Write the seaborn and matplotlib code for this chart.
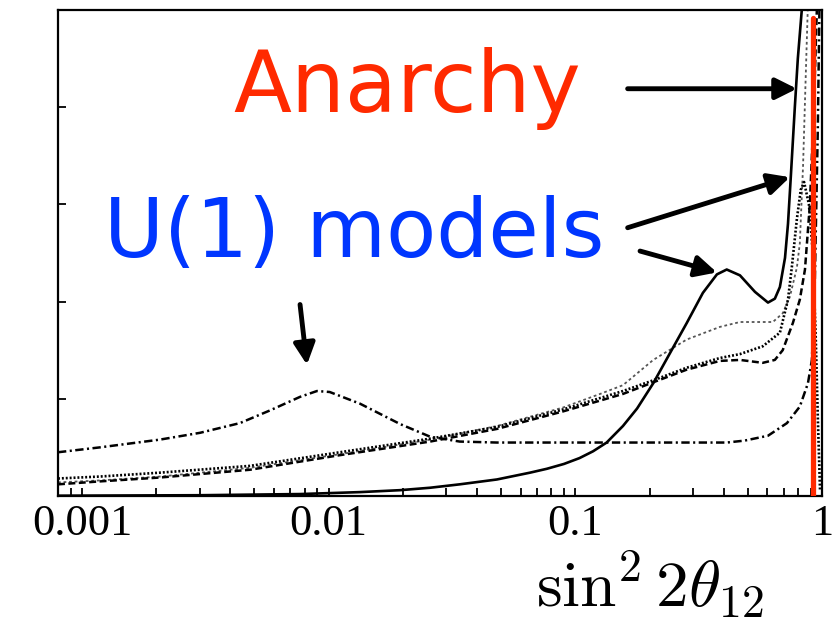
import numpy as np
import pandas as pd
import matplotlib
matplotlib.use("Agg")
import matplotlib.pyplot as plt
import seaborn as sns

# ---------------- data ----------------
# solid curve
x_solid = [0.00080, 0.00301, 0.00766, 0.0134, 0.0195, 0.0258, 0.034, 0.0481, 0.0655, 0.0767,
           0.090, 0.104, 0.118, 0.134, 0.156, 0.178, 0.207, 0.242, 0.283, 0.329,
           0.375, 0.411, 0.465, 0.535, 0.604, 0.644, 0.675, 0.708, 0.728, 0.748,
           0.776, 0.798, 0.828, 0.861]
y_solid = [0.003, 0.008, 0.02, 0.04, 0.06, 0.085, 0.12, 0.17, 0.24, 0.28,
           0.33, 0.39, 0.46, 0.55, 0.72, 0.90, 1.16, 1.47, 1.78, 2.09,
           2.28, 2.33, 2.27, 2.10, 1.99, 2.03, 2.15, 2.45, 2.8, 3.3,
           4.0, 4.5, 5.0, 5.8]

# long dash-dot curve (bump at 0.01)
x_dashdot = [0.00080, 0.00118, 0.00207, 0.00301, 0.00437, 0.00578, 0.00766, 0.00897, 0.0101, 0.0134,
             0.0195, 0.0258, 0.034, 0.0481, 0.104, 0.283, 0.411, 0.486, 0.604, 0.721,
             0.813, 0.877, 0.910, 0.935, 0.962, 0.982]
y_dashdot = [0.45, 0.50, 0.58, 0.65, 0.75, 0.88, 1.02, 1.08, 1.07, 0.95,
             0.74, 0.61, 0.56, 0.55, 0.55, 0.55, 0.55, 0.57, 0.62, 0.75,
             0.92, 1.16, 1.40, 2.2, 3.8, 5.5]

# fine dotted curve
x_fine = [0.00080, 0.00118, 0.00207, 0.0048, 0.0111, 0.0258, 0.0481, 0.0891, 0.126, 0.156,
          0.207, 0.283, 0.386, 0.465, 0.632, 0.693, 0.741, 0.791, 0.813, 0.838, 0.861, 0.885]
y_fine = [0.14, 0.16, 0.20, 0.29, 0.43, 0.58, 0.72, 0.91, 1.05, 1.14,
          1.40, 1.61, 1.74, 1.79, 1.79, 1.88, 2.05, 2.35, 2.6, 3.4, 4.4, 5.4]

# dense dotted curve
x_dots = [0.00080, 0.00118, 0.00207, 0.0048, 0.0111, 0.0258, 0.0481, 0.0891, 0.156, 0.207,
          0.283, 0.386, 0.465, 0.575, 0.675, 0.728, 0.755, 0.791, 0.820, 0.846, 0.885,
          0.918, 0.944, 0.962, 0.982]
y_dots = [0.18, 0.20, 0.24, 0.31, 0.45, 0.59, 0.71, 0.89, 1.08, 1.19,
          1.32, 1.42, 1.46, 1.54, 1.68, 2.02, 2.36, 2.85, 3.15, 3.23, 3.0,
          2.5, 1.6, 0.8, 0.05]

# dashed curve
x_dash = [0.00080, 0.00118, 0.00207, 0.0048, 0.0111, 0.0258, 0.0481, 0.0891, 0.156, 0.207,
          0.283, 0.386, 0.465, 0.575, 0.644, 0.693, 0.762, 0.813, 0.853, 0.893, 0.927,
          0.953, 0.972]
y_dash = [0.12, 0.15, 0.19, 0.27, 0.42, 0.56, 0.69, 0.87, 1.05, 1.17,
          1.30, 1.39, 1.40, 1.37, 1.40, 1.50, 1.78, 2.02, 2.33, 3.0, 4.0,
          5.0, 6.0]

red_x = 0.92
x_ticks = [0.001, 0.01, 0.1, 1]
x_tick_labels = ["0.001", "0.01", "0.1", "1"]
y_ticks = [1, 2, 3, 4]

# ---------------- style ----------------
sns.set_style("ticks")
plt.rcParams["font.family"] = ["DejaVu Sans"]
plt.rcParams["mathtext.fontset"] = "cm"
plt.rcParams["lines.scale_dashes"] = False
plt.rcParams["text.color"] = "black"

fig = plt.figure(figsize=(8.4, 6.3), dpi=100)
ax = fig.add_axes([58 / 840, 134 / 630, 764 / 840, 486 / 630])

curves = [
    (x_fine, y_fine, dict(color="#555555", lw=1.3, linestyle=(0, (2.0, 2.0)))),
    (x_dashdot, y_dashdot, dict(color="black", lw=1.8, linestyle=(0, (6, 2.5, 1.5, 2.5)))),
    (x_dash, y_dash, dict(color="black", lw=1.8, linestyle=(0, (5, 2.5)))),
    (x_dots, y_dots, dict(color="black", lw=1.9, linestyle=(0, (1.4, 1.4)))),
    (x_solid, y_solid, dict(color="black", lw=1.9, linestyle="-")),
]
for xs, ys, kw in curves:
    sns.lineplot(x=xs, y=ys, ax=ax, estimator=None, sort=False, **kw)

ax.axvline(red_x, ymin=0, ymax=0.984, color="#ff2a00", lw=3.8, zorder=5)

ax.set_xscale("log")
ax.set_xlim(0.0008, 1.0)
ax.set_ylim(0, 5)
ax.set_xticks(x_ticks)
ax.set_xticklabels(x_tick_labels)
ax.set_yticks(y_ticks)
ax.set_yticklabels([])
ax.xaxis.set_minor_locator(matplotlib.ticker.LogLocator(base=10, subs=np.arange(2, 10)))
ax.xaxis.set_minor_formatter(matplotlib.ticker.NullFormatter())
ax.tick_params(axis="both", which="both", direction="in", width=1.3, colors="black")
ax.tick_params(axis="both", which="major", length=6)
ax.tick_params(axis="x", which="minor", length=6)
ax.tick_params(axis="x", which="major", pad=6)
for lab in ax.get_xticklabels():
    lab.set_fontfamily("Liberation Serif")
    lab.set_fontsize(32)
for sp in ax.spines.values():
    sp.set_linewidth(1.6)
    sp.set_color("black")

ax.set_xlabel(r"$\sin^2 2\theta_{12}$", fontsize=47, color="black")
ax.xaxis.set_label_coords(0.775, -0.108)

# annotations
ax.text(0.0209, 3.95, "Anarchy", color="#ff2a00", fontsize=61, ha="center", va="baseline")
ax.text(0.01268, 2.46, "U(1) models", color="#0036ff", fontsize=59, ha="center", va="baseline")

arrow = dict(arrowstyle="-|>", lw=3.5, color="black", mutation_scale=32, shrinkA=0, shrinkB=0)
ax.annotate("", xy=(0.791, 4.19), xytext=(0.163, 4.19), arrowprops=arrow)
ax.annotate("", xy=(0.741, 3.28), xytext=(0.163, 2.76), arrowprops=arrow)
ax.annotate("", xy=(0.375, 2.30), xytext=(0.183, 2.52), arrowprops=arrow)
ax.annotate("", xy=(0.00817, 1.35), xytext=(0.00766, 1.97), arrowprops=arrow)

fig.savefig("out.png", dpi=100)
